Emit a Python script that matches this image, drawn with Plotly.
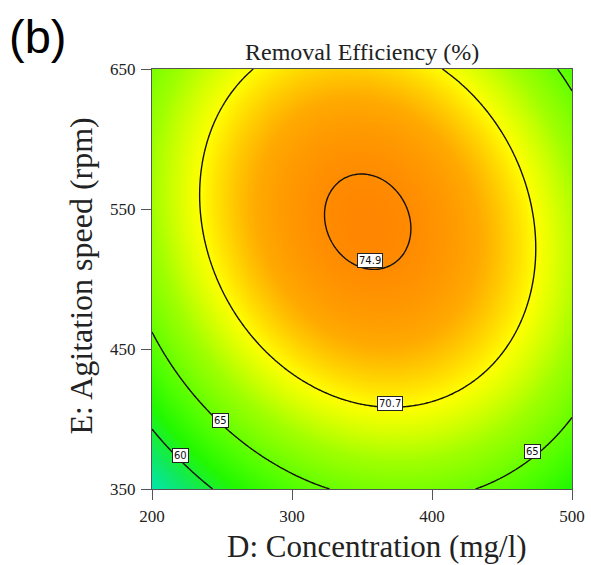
import numpy as np
import plotly.graph_objects as go

# Fitted quadratic model for removal efficiency (coded factors, -1..+1)
intercept = 74.74
coef_D = 0.90
coef_E = 3.26
coef_DE = -1.87
coef_D2 = -7.17
coef_E2 = -5.88

# Factor ranges in actual units
conc_range = [200, 500]      # D: concentration (mg/l)
speed_range = [350, 650]     # E: agitation speed (rpm)
conc_ticks = [200, 300, 400, 500]
speed_ticks = [350, 450, 550, 650]

# Contour levels and where their labels sit (D, E)
levels = [60, 65, 70.7, 74.9]
label_levels = [74.9, 70.7, 65, 60, 65]
label_conc = [356, 370, 249, 220, 472]
label_speed = [513, 411, 399, 373.6, 376.5]

conc = np.linspace(conc_range[0], conc_range[1], 241)
speed = np.linspace(speed_range[0], speed_range[1], 241)
C, S = np.meshgrid(conc, speed)
xd = (C - 350) / 150
xe = (S - 500) / 150
Z = (intercept + coef_D * xd + coef_E * xe + coef_DE * xd * xe
     + coef_D2 * xd ** 2 + coef_E2 * xe ** 2)

# Colour ramp: teal -> green -> yellow -> orange, keyed to response values
ramp = [(55.6, "#00e6b0"), (58.5, "#10e860"), (61.5, "#22f800"),
        (64.0, "#50ff00"), (67.7, "#a0ff00"), (70.7, "#ffff00"),
        (73.2, "#ffaa00"), (75.3, "#ff8400")]
zmin, zmax = ramp[0][0], ramp[-1][0]
colorscale = [[(v - zmin) / (zmax - zmin), c] for v, c in ramp]

fig = go.Figure()
fig.add_trace(go.Heatmap(x=conc, y=speed, z=Z, zmin=zmin, zmax=zmax,
                         colorscale=colorscale, zsmooth="best",
                         showscale=False, hoverinfo="skip"))
for lv in levels:
    fig.add_trace(go.Contour(x=conc, y=speed, z=Z, showscale=False,
                             contours=dict(start=lv, end=lv, size=1,
                                           coloring="none"),
                             line=dict(color="#111111", width=1.4),
                             hoverinfo="skip"))

for lv, xc, yc in zip(label_levels, label_conc, label_speed):
    fig.add_annotation(x=xc, y=yc, text=f"{lv:g}", showarrow=False,
                       font=dict(family="DejaVu Sans", size=10, color="#111111"),
                       bgcolor="white", bordercolor="#222222", borderwidth=1,
                       borderpad=1)

serif = "Liberation Serif"
ink = "#222222"
fig.add_annotation(x=0.5, y=1.0, xref="paper", yref="paper",
                   xanchor="center", yanchor="bottom", yshift=2,
                   showarrow=False, text="Removal Efficiency (%)",
                   font=dict(family=serif, size=24, color=ink))
fig.add_annotation(x=0.536, y=-0.136, xref="paper", yref="paper",
                   xanchor="center", yanchor="middle", showarrow=False,
                   text="D: Concentration (mg/l)",
                   font=dict(family=serif, size=31, color=ink))
fig.add_annotation(x=-0.169, y=0.506, xref="paper", yref="paper",
                   xanchor="center", yanchor="middle", showarrow=False,
                   textangle=-90, text="E: Agitation speed (rpm)",
                   font=dict(family=serif, size=32, color=ink))
fig.add_annotation(x=-0.345, y=1.145, xref="paper", yref="paper",
                   xanchor="left", yanchor="top", showarrow=False,
                   text="(b)", font=dict(family="Liberation Sans", size=47,
                                         color="black"))

fig.update_layout(
    width=591, height=565,
    margin=dict(l=152, r=19, t=69, b=76, autoexpand=False),
    paper_bgcolor="white", plot_bgcolor="white",
    showlegend=False,
)
axis_style = dict(ticks="outside", ticklen=10, tickcolor="#555555",
                  showline=True, linecolor="#555555", mirror=True,
                  showgrid=False, zeroline=False, ticklabelstandoff=2,
                  automargin=False,
                  tickfont=dict(family=serif, size=17, color=ink))
fig.update_xaxes(range=conc_range, tickvals=conc_ticks, **axis_style)
fig.update_yaxes(range=speed_range, tickvals=speed_ticks, **axis_style)

fig.write_html("out.html")
